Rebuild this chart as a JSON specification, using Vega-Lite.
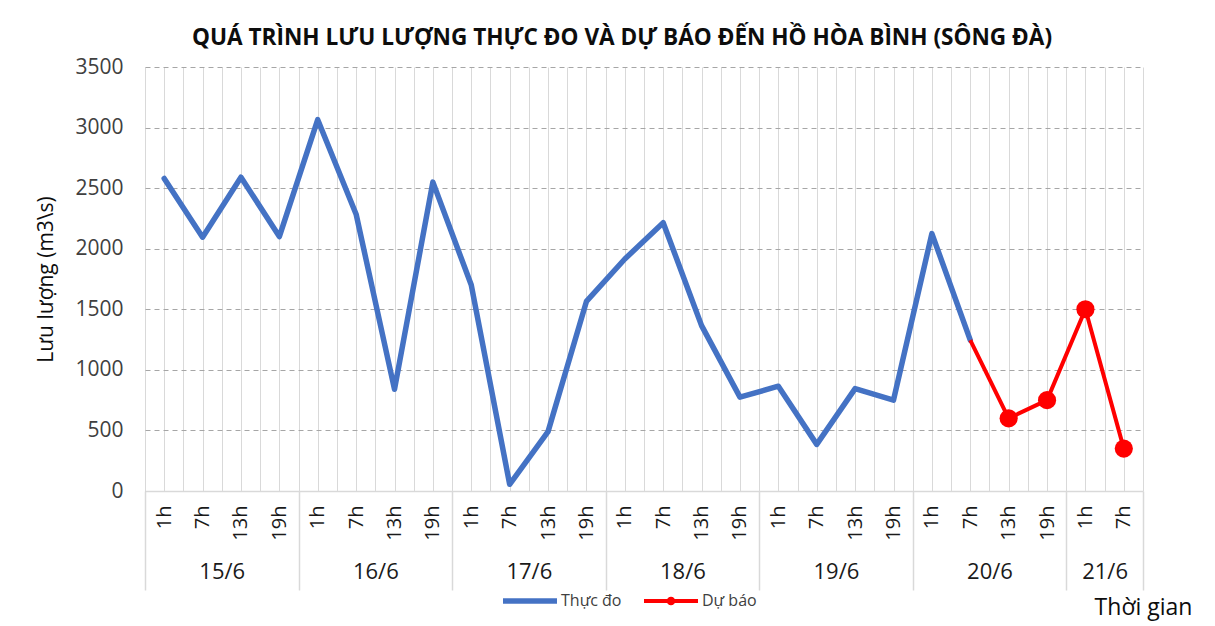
{
  "$schema": "https://vega.github.io/schema/vega-lite/v6.json",
  "autosize": {"type": "none"},
  "width": 998,
  "height": 424,
  "padding": {"left": 145, "top": 67, "right": 72, "bottom": 135},
  "background": "white",
  "config": {
    "font": "Open Sans",
    "view": {"stroke": null}
  },
  "title": {
    "text": "QUÁ TRÌNH LƯU LƯỢNG THỰC ĐO VÀ DỰ BÁO ĐẾN HỒ HÒA BÌNH (SÔNG ĐÀ)",
    "font": "Open Sans",
    "fontSize": 22.6,
    "fontWeight": "bold",
    "color": "#0d0d0d",
    "anchor": "middle",
    "dx": -22,
    "offset": 6
  },
  "data": {
    "values": [
      {"i": 0, "day": "15/6", "hour": "1h", "q": 2580, "series": "Thực đo"},
      {"i": 1, "day": "15/6", "hour": "7h", "q": 2095, "series": "Thực đo"},
      {"i": 2, "day": "15/6", "hour": "13h", "q": 2590, "series": "Thực đo"},
      {"i": 3, "day": "15/6", "hour": "19h", "q": 2100, "series": "Thực đo"},
      {"i": 4, "day": "16/6", "hour": "1h", "q": 3065, "series": "Thực đo"},
      {"i": 5, "day": "16/6", "hour": "7h", "q": 2285, "series": "Thực đo"},
      {"i": 6, "day": "16/6", "hour": "13h", "q": 840, "series": "Thực đo"},
      {"i": 7, "day": "16/6", "hour": "19h", "q": 2550, "series": "Thực đo"},
      {"i": 8, "day": "17/6", "hour": "1h", "q": 1700, "series": "Thực đo"},
      {"i": 9, "day": "17/6", "hour": "7h", "q": 55, "series": "Thực đo"},
      {"i": 10, "day": "17/6", "hour": "13h", "q": 490, "series": "Thực đo"},
      {"i": 11, "day": "17/6", "hour": "19h", "q": 1565, "series": "Thực đo"},
      {"i": 12, "day": "18/6", "hour": "1h", "q": 1915, "series": "Thực đo"},
      {"i": 13, "day": "18/6", "hour": "7h", "q": 2215, "series": "Thực đo"},
      {"i": 14, "day": "18/6", "hour": "13h", "q": 1365, "series": "Thực đo"},
      {"i": 15, "day": "18/6", "hour": "19h", "q": 775, "series": "Thực đo"},
      {"i": 16, "day": "19/6", "hour": "1h", "q": 865, "series": "Thực đo"},
      {"i": 17, "day": "19/6", "hour": "7h", "q": 385, "series": "Thực đo"},
      {"i": 18, "day": "19/6", "hour": "13h", "q": 845, "series": "Thực đo"},
      {"i": 19, "day": "19/6", "hour": "19h", "q": 750, "series": "Thực đo"},
      {"i": 20, "day": "20/6", "hour": "1h", "q": 2125, "series": "Thực đo"},
      {"i": 21, "day": "20/6", "hour": "7h", "q": 1245, "series": "Thực đo"},
      {"i": 21, "day": "20/6", "hour": "7h", "q": 1245, "series": "Dự báo"},
      {"i": 22, "day": "20/6", "hour": "13h", "q": 600, "series": "Dự báo"},
      {"i": 23, "day": "20/6", "hour": "19h", "q": 750, "series": "Dự báo"},
      {"i": 24, "day": "21/6", "hour": "1h", "q": 1500, "series": "Dự báo"},
      {"i": 25, "day": "21/6", "hour": "7h", "q": 350, "series": "Dự báo"}
    ]
  },
  "resolve": {"axis": {"x": "independent", "y": "independent"}},
  "layer": [
    {
      "transform": [{"filter": "datum.series == 'Thực đo'"}],
      "mark": {"type": "line", "strokeWidth": 5.5, "strokeCap": "round", "strokeJoin": "round"},
      "encoding": {
        "x": {
          "field": "i", "type": "quantitative",
          "scale": {"domain": [-0.5, 25.5], "nice": false, "zero": false},
          "axis": {
            "orient": "bottom",
            "values": [-0.5,0,0.5,1,1.5,2,2.5,3,3.5,4,4.5,5,5.5,6,6.5,7,7.5,8,8.5,9,9.5,10,10.5,11,11.5,12,12.5,13,13.5,14,14.5,15,15.5,16,16.5,17,17.5,18,18.5,19,19.5,20,20.5,21,21.5,22,22.5,23,23.5,24,24.5,25,25.5],
            "labelExpr": "datum.value % 1 == 0 ? ['1h','7h','13h','19h'][datum.value % 4] : ''",
            "labelAngle": -90,
            "labelAlign": "right",
            "labelBaseline": "middle",
            "labelPadding": 14,
            "labelFontSize": 20,
            "labelColor": "#1a1a1a",
            "labelOverlap": false,
            "labelFlush": false,
            "labelBound": false,
            "ticks": false,
            "domain": true,
            "domainColor": "#d9d9d9",
            "domainWidth": 1.5,
            "grid": true,
            "gridColor": "#d9d9d9",
            "gridWidth": 1,
            "title": null
          }
        },
        "y": {
          "field": "q", "type": "quantitative",
          "scale": {"domain": [0, 3500], "nice": false},
          "axis": {
            "values": [0, 500, 1000, 1500, 2000, 2500, 3000, 3500],
            "format": "d",
            "grid": true,
            "gridColor": "#a6a6a6",
            "gridDash": [5, 4],
            "gridWidth": 1,
            "domain": false,
            "ticks": false,
            "labelFontSize": 21,
            "labelColor": "#404040",
            "labelPadding": 22,
            "title": "Lưu lượng (m3\\s)",
            "titleFontSize": 21,
            "titleFontWeight": "normal",
            "titleColor": "#0d0d0d",
            "titlePadding": 18
          }
        },
        "color": {
          "field": "series", "type": "nominal",
          "scale": {"domain": ["Thực đo", "Dự báo"], "range": ["#4472C4", "#FF0000"]},
          "legend": {
            "orient": "none",
            "legendX": 358,
            "legendY": 507,
            "direction": "horizontal",
            "title": null,
            "padding": 0,
            "symbolSize": 2916,
            "labelFontSize": 16,
            "labelColor": "#404040",
            "labelOffset": 4,
            "columnPadding": 22,
            "encode": {
              "symbols": {
                "update": {
                  "shape": {"signal": "datum.value == 'Dự báo' ? 'M-1,-0.07H1V0.07H-1Z M0.16,0A0.16,0.16 0 1,1 -0.16,0A0.16,0.16 0 1,1 0.16,0Z' : 'M-1,-0.1H1V0.1H-1Z'"},
                  "fill": {"signal": "datum.value == 'Dự báo' ? '#FF0000' : '#4472C4'"},
                  "fillOpacity": {"value": 1},
                  "strokeWidth": {"value": 0}
                }
              }
            }
          }
        }
      }
    },
    {
      "transform": [{"filter": "datum.series == 'Dự báo'"}],
      "mark": {"type": "line", "strokeWidth": 4, "strokeJoin": "round"},
      "encoding": {
        "x": {
          "field": "i", "type": "quantitative",
          "axis": {
            "orient": "bottom",
            "values": [1.5, 5.5, 9.5, 13.5, 17.5, 21.5, 24.5],
            "labelExpr": "datum.value < 24 ? (15 + floor(datum.value / 4)) + '/6' : '21/6'",
            "labelFontSize": 22,
            "labelColor": "#1a1a1a",
            "labelPadding": 70,
            "labelOverlap": false,
            "labelFlush": false,
            "labelBound": false,
            "ticks": false,
            "domain": false,
            "grid": false,
            "title": "Thời gian",
            "titleFontSize": 23,
            "titleFontWeight": "normal",
            "titleColor": "#0d0d0d",
            "titleAlign": "center",
            "titleBaseline": "alphabetic",
            "titleX": 998,
            "titleY": 123
          }
        },
        "y": {"field": "q", "type": "quantitative", "axis": null},
        "color": {"field": "series", "type": "nominal"}
      }
    },
    {
      "transform": [{"filter": "datum.series == 'Dự báo' && datum.i > 21"}],
      "mark": {"type": "point", "filled": true, "size": 330, "opacity": 1},
      "encoding": {
        "x": {
          "field": "i", "type": "quantitative",
          "axis": {
            "orient": "bottom",
            "values": [-0.5, 3.5, 7.5, 11.5, 15.5, 19.5, 23.5, 25.5],
            "labels": false,
            "ticks": true,
            "tickSize": 99,
            "tickColor": "#d9d9d9",
            "tickWidth": 1.5,
            "domain": false,
            "grid": false,
            "title": null
          }
        },
        "y": {"field": "q", "type": "quantitative", "axis": null},
        "color": {"field": "series", "type": "nominal"}
      }
    }
  ]
}
